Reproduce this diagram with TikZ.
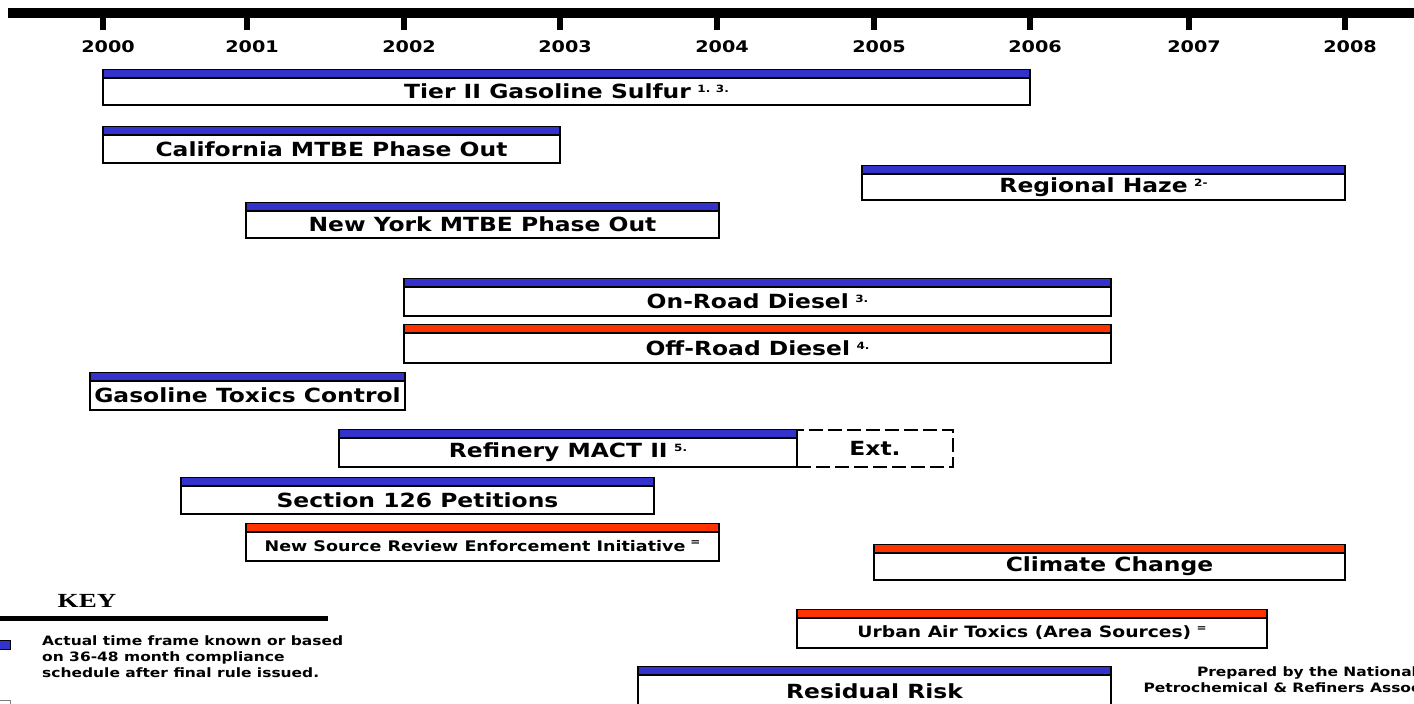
\documentclass[tikz,border=0pt]{standalone}
\usepackage{fontspec}
\newfontfamily\vb{DejaVu Sans}[FakeStretch=1.2]
\newfontfamily\kf{Liberation Serif}[FakeStretch=1.35]
\definecolor{nblue}{RGB}{51,51,204}
\definecolor{nred}{RGB}{255,51,0}
\newcommand{\sups}[1]{\,\,{\fontsize{10}{10}\selectfont\raisebox{6pt}{#1}}}
\newcommand{\tbar}[8]{%
  \node[lbox, minimum width={(#3-#2)*1pt}, minimum height={#5*1pt}, #7] (#1) at (#2,#4) {#8};
  \filldraw[fill=#6, draw=black, line width=1.6pt] (#1.north west) rectangle ([yshift=8.5pt]#1.north east);
}
\tikzset{
  lbox/.style={draw=black, line width=1.6pt, fill=white, anchor=north west, inner sep=0pt, outer sep=0pt,
    font=\vb\bfseries\fontsize{19.5}{22}\selectfont},
  smalla/.style={font=\vb\bfseries\fontsize{14.6}{16}\selectfont},
  smallb/.style={font=\vb\bfseries\fontsize{15.6}{17}\selectfont},
  yr/.style={font=\vb\bfseries\fontsize{16}{18}\selectfont, inner sep=0pt},
  tick/.style={fill=black},
  keytxt/.style={font=\vb\bfseries\fontsize{12.9}{16}\selectfont, align=left, inner sep=0pt},
}
\begin{document}
\begin{tikzpicture}[x=1pt,y=-1pt]
\useasboundingbox (0,0) rectangle (1414,704);
\clip (0,0) rectangle (1414,704);
% timeline
\fill (8,8) rectangle (1414,18);
\foreach \t/\yy in {103/2000,247/2001,404/2002,560/2003,717/2004,874/2005,1030/2006,1189/2007,1345/2008}{
  \fill[tick] (\t-3,18) rectangle (\t+3,30);
  \node[yr] (y\yy) at (\t+5,47) {\yy};
}
% bars
\tbar{tier}{103}{1030}{78}{27}{nblue}{}{Tier II Gasoline Sulfur\sups{1. 3.}}
\tbar{cal}{103}{560}{135}{28}{nblue}{}{California MTBE Phase Out}
\tbar{haze}{862}{1345}{174}{26}{nblue}{}{Regional Haze\sups{2-}}
\tbar{ny}{246}{719}{211}{27}{nblue}{}{New York MTBE Phase Out}
\tbar{onroad}{404}{1111}{287}{29}{nblue}{}{On-Road Diesel\sups{3.}}
\tbar{offroad}{404}{1111}{333}{30}{nred}{}{Off-Road Diesel\sups{4.}}
\tbar{gtc}{90}{405}{381}{29}{nblue}{}{Gasoline Toxics Control}
\tbar{mact}{339}{797}{438}{29}{nblue}{}{Refinery MACT II\sups{5.}}
\node[draw=black, dash pattern=on 14pt off 5pt, line width=1.6pt, minimum width=156pt, minimum height=37pt,
  anchor=north west, inner sep=0pt, outer sep=0pt, font=\vb\bfseries\fontsize{19.5}{22}\selectfont] (ext) at (797,430) {Ext.};
\tbar{sec}{181}{654}{486}{28}{nblue}{}{Section 126 Petitions}
\tbar{nsr}{246}{719}{532}{29}{nred}{smalla}{New Source Review Enforcement Initiative\sups{=}}
\tbar{climate}{874}{1345}{553}{27}{nred}{}{Climate Change}
\tbar{urban}{797}{1267}{618}{30}{nred}{smallb}{Urban Air Toxics (Area Sources)\sups{=}}
\tbar{resid}{638}{1111}{675}{33}{nblue}{}{Residual Risk}
% key
\node[font=\kf\bfseries\fontsize{20}{22}\selectfont, inner sep=0pt] (key) at (87,601) {KEY};
\fill (0,616) rectangle (328,621);
\filldraw[fill=nblue, draw=black, line width=1pt] (-2,640) rectangle (10,649);
\node[keytxt, anchor=north west] (k1) at (42,635) {Actual time frame known or based\\on 36-48 month compliance\\schedule after final rule issued.};
\draw[black!50, line width=1pt] (-2,700) rectangle (10,710);
\node[keytxt, align=center] (prep) at (1307,680) {Prepared by the National\\Petrochemical \& Refiners Association};
\end{tikzpicture}
\end{document}
